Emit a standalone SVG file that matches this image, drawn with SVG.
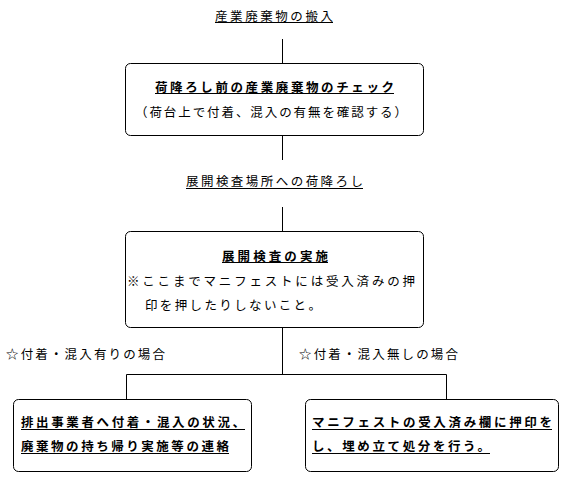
<svg xmlns="http://www.w3.org/2000/svg" width="568" height="480" viewBox="0 0 568 480">
<style>
text{font-family:"Noto Sans CJK JP","Noto Sans CJK SC",sans-serif;font-size:12.5px;fill:#000}
.b{font-weight:bold}
.box{fill:#fff;stroke:#000;stroke-width:1}
.ul{stroke:#000;stroke-width:1}
.c{stroke:#000;stroke-width:1;fill:none}
</style>
<rect width="568" height="480" fill="#fff"/>
<g id="connectors">
<line class="c" x1="282.5" y1="39" x2="282.5" y2="63"/>
<line class="c" x1="282.5" y1="135" x2="282.5" y2="160"/>
<line class="c" x1="282.5" y1="207" x2="282.5" y2="231"/>
<line class="c" x1="282.5" y1="327" x2="282.5" y2="374"/>
<polyline class="c" points="126.5,399 126.5,374.5 446.5,374.5 446.5,399"/>
</g>
<g id="n-start">
<text x="215" y="21" textLength="118" lengthAdjust="spacing">産業廃棄物の搬入</text>
<line class="ul" x1="215" y1="22.5" x2="333" y2="22.5"/>
</g>
<g id="n-check">
<rect class="box" x="125.5" y="63.5" width="298" height="72" rx="5"/>
<text class="b" x="155" y="91.5" textLength="239" lengthAdjust="spacing">荷降ろし前の産業廃棄物のチェック</text>
<line class="ul" x1="155" y1="93.5" x2="394" y2="93.5"/>
<text x="135" y="117" textLength="272" lengthAdjust="spacing">（荷台上で付着、混入の有無を確認する）</text>
</g>
<g id="n-unload">
<text x="186" y="186" textLength="177" lengthAdjust="spacing">展開検査場所への荷降ろし</text>
<line class="ul" x1="186" y1="188.5" x2="363" y2="188.5"/>
</g>
<g id="n-inspect">
<rect class="box" x="125.5" y="231.5" width="298" height="96" rx="5"/>
<text class="b" x="222" y="260.5" textLength="106" lengthAdjust="spacing">展開検査の実施</text>
<line class="ul" x1="222" y1="262.5" x2="328" y2="262.5"/>
<text x="127" y="285.5" textLength="288" lengthAdjust="spacing">※ここまでマニフェストには受入済みの押</text>
<text x="145" y="309.5" textLength="176" lengthAdjust="spacing">印を押したりしないこと。</text>
</g>
<g id="l-yes">
<text x="6" y="358.5" textLength="159" lengthAdjust="spacing">☆付着・混入有りの場合</text>
</g>
<g id="l-no">
<text x="299" y="358.5" textLength="159" lengthAdjust="spacing">☆付着・混入無しの場合</text>
</g>
<g id="n-contact">
<rect class="box" x="13.5" y="399.5" width="238" height="72" rx="5"/>
<text class="b" x="21" y="427" textLength="224" lengthAdjust="spacing">排出事業者へ付着・混入の状況、</text>
<line class="ul" x1="21" y1="429.5" x2="245" y2="429.5"/>
<text class="b" x="21" y="451" textLength="208" lengthAdjust="spacing">廃棄物の持ち帰り実施等の連絡</text>
<line class="ul" x1="21" y1="453.5" x2="229" y2="453.5"/>
</g>
<g id="n-stamp">
<rect class="box" x="305.5" y="399.5" width="253" height="72" rx="5"/>
<text class="b" x="312" y="427" textLength="240" lengthAdjust="spacing">マニフェストの受入済み欄に押印を</text>
<line class="ul" x1="312" y1="429.5" x2="552" y2="429.5"/>
<text class="b" x="312" y="451" textLength="178" lengthAdjust="spacing">し、埋め立て処分を行う。</text>
<line class="ul" x1="312" y1="453.5" x2="490" y2="453.5"/>
</g>
</svg>
